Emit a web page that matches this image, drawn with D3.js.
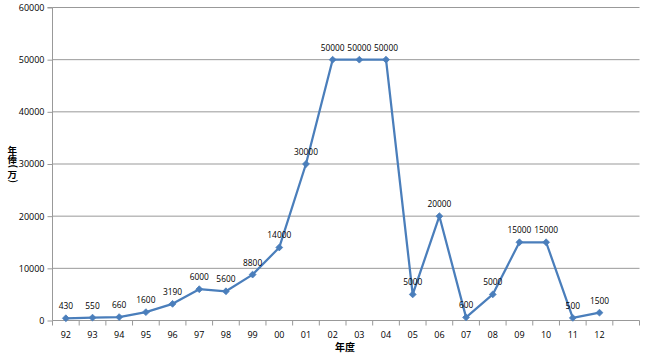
<!DOCTYPE html>
<html><head><meta charset="utf-8">
<script src="https://cdn.jsdelivr.net/npm/d3@7"></script>
<style>body{margin:0;background:#fff}svg{display:block}</style>
</head><body>
<svg id="c" width="650" height="358"></svg>
<script>
const categories = ["92","93","94","95","96","97","98","99","00","01","02","03","04","05","06","07","08","09","10","11","12"];
const values = [430,550,660,1600,3190,6000,5600,8800,14000,30000,50000,50000,50000,5000,20000,600,5000,15000,15000,500,1500];
const yTicks = [0,10000,20000,30000,40000,50000,60000];

const svg = d3.select("#c");
const L = 52.5, R = 639.5, T = 7.5, B = 320.5;
const domainCats = categories.concat(["_"]);
const x = d3.scaleBand().domain(domainCats).range([L, R]);
const y = d3.scaleLinear().domain([0, 60000]).range([B, T]);
const font = "'Open Sans', 'DejaVu Sans', sans-serif";
const gray = "#999";

// gridlines
svg.append("g").selectAll("line").data(yTicks.filter(d=>d>0)).join("line")
  .attr("x1", L).attr("x2", R).attr("y1", d=>y(d)).attr("y2", d=>y(d))
  .attr("stroke", gray).attr("stroke-width", 1);

// y axis
const ya = svg.append("g").attr("transform", `translate(${L},0)`)
  .call(d3.axisLeft(y).tickValues(yTicks).tickSize(5).tickPadding(3).tickFormat(d3.format("d")));
ya.select(".domain").attr("stroke", gray).attr("d", `M-5,${T}H0V${B}`);
ya.selectAll(".tick line").attr("stroke", gray);
ya.selectAll("text").attr("font-family", font).attr("font-size", 9).attr("fill", "#000");

// x axis
const xa = svg.append("g").attr("transform", `translate(0,${B})`);
xa.append("line").attr("x1", L).attr("x2", R).attr("stroke", gray);
const bounds = domainCats.map(c => x(c)).concat([R]);
xa.selectAll("line.tk").data(bounds).join("line").attr("class","tk")
  .attr("x1", d=>d).attr("x2", d=>d).attr("y1", 0).attr("y2", 5).attr("stroke", gray);
xa.selectAll("text").data(categories).join("text")
  .attr("x", d => x(d) + x.bandwidth()/2).attr("y", 17)
  .attr("text-anchor", "middle").attr("font-family", font).attr("font-size", 9).text(d=>d);

// line
const pts = categories.map((c,i)=>({c, v: values[i]}));
svg.append("path").datum(pts)
  .attr("d", d3.line().x(d=>x(d.c)+x.bandwidth()/2).y(d=>y(d.v)))
  .attr("fill","none").attr("stroke","#4a7ebb").attr("stroke-width",2.25).attr("stroke-linejoin","round");

// markers
svg.append("g").selectAll("path").data(pts).join("path")
  .attr("transform", d=>`translate(${x(d.c)+x.bandwidth()/2},${y(d.v)})`)
  .attr("d", d3.symbol(d3.symbolDiamond2, 30)).attr("fill", "#4a7ebb").attr("stroke","#4a7ebb").attr("stroke-width",0.8);

// data labels
svg.append("g").selectAll("text").data(pts).join("text")
  .attr("x", d=>x(d.c)+x.bandwidth()/2).attr("y", d=>y(d.v)-9)
  .attr("text-anchor","middle").attr("font-family", font).attr("font-size", 8.4).attr("fill","#000")
  .text(d=>d.v);

// axis titles
svg.append("text").attr("x", 345).attr("y", 351).attr("text-anchor","middle")
  .attr("font-family","'Noto Sans CJK SC', sans-serif").attr("font-weight","bold").attr("font-size",10).text("年度");
// vertical stacked y title: one text element, per-glyph positions, parens rotated
svg.append("text")
  .attr("x", "7.5 7.5 10 7.5 10").attr("y", "153.5 163 164.5 177.5 179.5")
  .attr("rotate", "0 0 90 0 90")
  .attr("font-family","'Noto Sans CJK SC', sans-serif").attr("font-weight","bold").attr("font-size",9.5)
  .text("年俸(万)");
</script>
</body></html>
